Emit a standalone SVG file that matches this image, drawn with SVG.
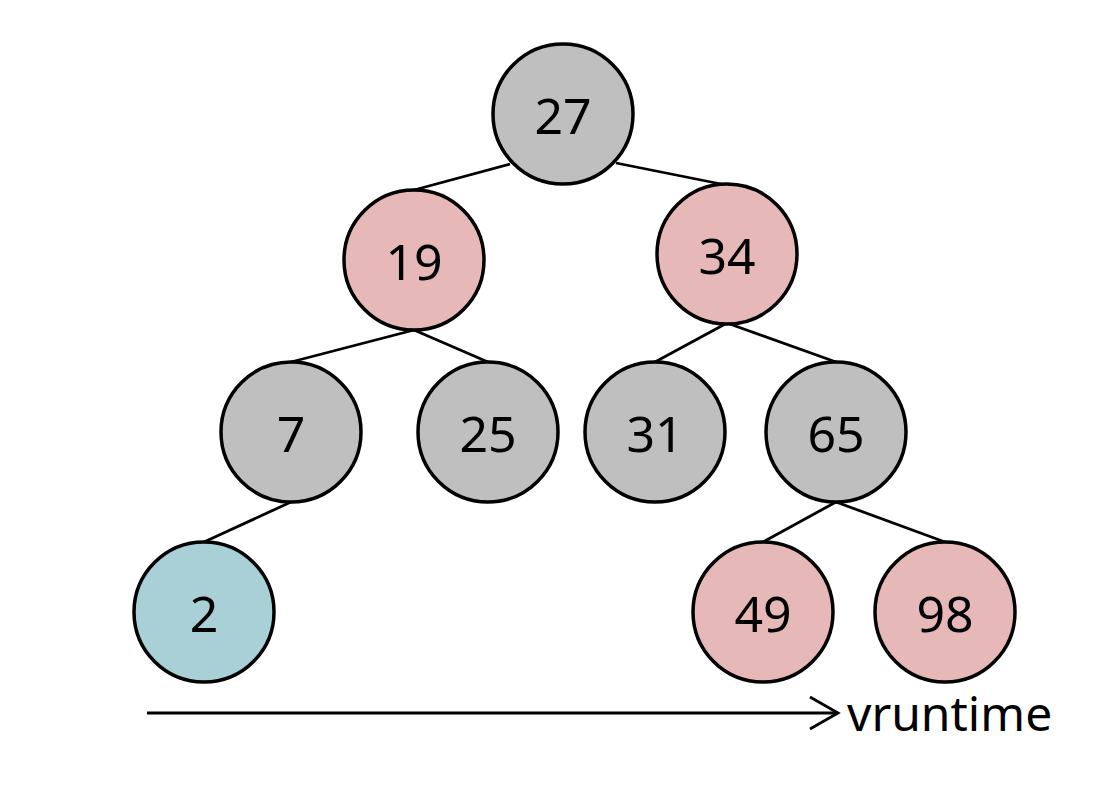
<svg xmlns="http://www.w3.org/2000/svg" width="1110" height="798" viewBox="0 0 1110 798">
<style>
.n{stroke:#000;stroke-width:3.5}
.g{fill:#bfbfbf}
.r{fill:#e6b8b7}
.b{fill:#a9cfd7}
.t{font-family:"Noto Sans","Open Sans","DejaVu Sans",sans-serif;font-size:50px;text-anchor:middle;fill:#000}
.e{stroke:#000;stroke-width:2.8;fill:none}
</style>
<rect width="1110" height="798" fill="#fff"/>
<g id="connectors">
<line class="e" x1="510" y1="164" x2="414" y2="190"/>
<line class="e" x1="616" y1="163" x2="726" y2="185"/>
<line class="e" x1="414" y1="330" x2="291" y2="362"/>
<line class="e" x1="414" y1="330" x2="488" y2="362"/>
<line class="e" x1="727" y1="323" x2="655" y2="362"/>
<line class="e" x1="727" y1="323" x2="836" y2="362"/>
<line class="e" x1="291" y1="502" x2="204" y2="542"/>
<line class="e" x1="836" y1="502" x2="763" y2="542"/>
<line class="e" x1="836" y1="502" x2="945" y2="542"/>
<line class="e" x1="147" y1="713" x2="838" y2="713"/>
<polyline class="e" points="810,697 838,713 810,729" stroke-width="3.2"/>
</g>
<g id="n27"><circle class="n g" cx="563" cy="114" r="70"/><text class="t" x="563" y="134">27</text></g>
<g id="n19"><circle class="n r" cx="414" cy="260" r="70"/><text class="t" x="414" y="280">19</text></g>
<g id="n34"><circle class="n r" cx="727" cy="254" r="70"/><text class="t" x="727" y="274">34</text></g>
<g id="n7"><circle class="n g" cx="291" cy="432" r="70"/><text class="t" x="291" y="452">7</text></g>
<g id="n25"><circle class="n g" cx="488" cy="432" r="70"/><text class="t" x="488" y="452">25</text></g>
<g id="n31"><circle class="n g" cx="655" cy="432" r="70"/><text class="t" x="655" y="452">31</text></g>
<g id="n65"><circle class="n g" cx="836" cy="432" r="70"/><text class="t" x="836" y="452">65</text></g>
<g id="n2"><circle class="n b" cx="204" cy="612" r="70"/><text class="t" x="204" y="632">2</text></g>
<g id="n49"><circle class="n r" cx="763" cy="612" r="70"/><text class="t" x="763" y="632">49</text></g>
<g id="n98"><circle class="n r" cx="945" cy="612" r="70"/><text class="t" x="945" y="632">98</text></g>
<g id="label"><text x="847" y="731" style="font-family:'Noto Sans','Open Sans','DejaVu Sans',sans-serif;font-size:48px;fill:#000">vruntime</text></g>
</svg>
